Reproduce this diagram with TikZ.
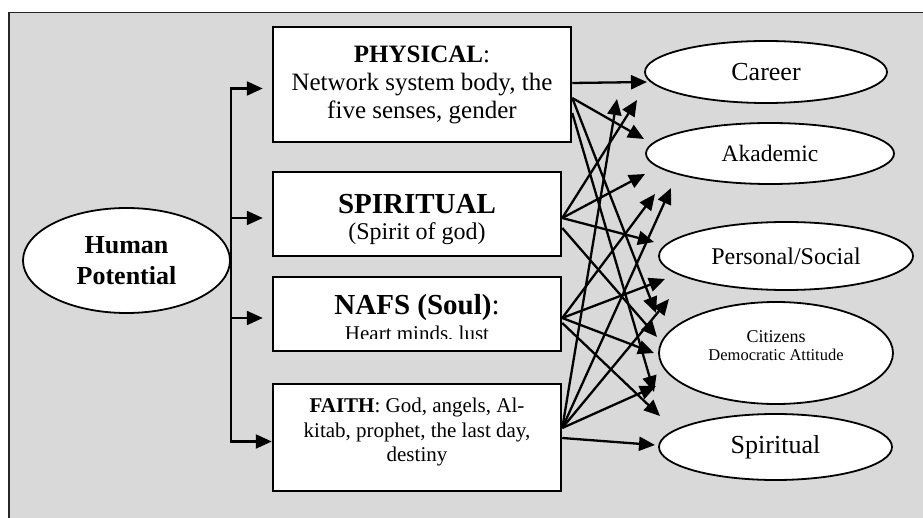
\documentclass[tikz,border=0pt]{standalone}
\usepackage{fontspec}
\setmainfont{Liberation Serif}
\usepackage{tikz}
\usetikzlibrary{arrows.meta,positioning,shapes,calc}
\definecolor{panelgray}{RGB}{217,217,217}
\tikzset{
  % middle column boxes
  box/.style={
    draw=black,
    line width=2.5pt,
    fill=white,
    inner sep=0pt,
    align=center
  },
  % ellipses (source and goals)
  goal/.style={
    ellipse,
    draw=black,
    line width=1.8pt,
    fill=white,
    inner sep=0pt,
    align=center
  },
  % text inside boxes
  boxtext/.style={align=center, inner sep=0pt},
  % arrows
  arr/.style={-{Triangle[length=16pt, width=14pt]}, line width=2.3pt},
  trunk/.style={line width=2.3pt, line cap=rect},
}

\begin{document}
\begin{tikzpicture}[x=1pt, y=-1pt]
    \useasboundingbox (0,0) rectangle (923,518);

    % grey panel (only top and left border visible)
    \fill[panelgray] (9,12.5) rectangle (935,530);
    \draw[line width=1.5pt, black!85] (935,12.5) -- (9,12.5) -- (9,530);

    % Source
    \node[goal, minimum width=207pt, minimum height=105pt, font=\fontsize{26}{31}\selectfont\bfseries] (hp) at (126.5,260.5) {Human\\Potential};

    % Boxes
    \node[box, minimum width=298pt, minimum height=115pt, font=\fontsize{25}{28}\selectfont] (phys) at (422,84.5)
        {\textbf{PHYSICAL}:\\Network system body, the\\five senses, gender};
    \node[box, minimum width=288pt, minimum height=84pt] (spir) at (417,214) {};
    \node[boxtext, font=\fontsize{24}{26}\selectfont] (spirt) at (417,219)
        {{\fontsize{29}{26}\selectfont\bfseries SPIRITUAL}\\(Spirit of god)};
    \node[box, minimum width=288pt, minimum height=74pt] (nafs) at (417,314) {};
    \node[anchor=base, font=\fontsize{29}{30}\selectfont] (nafst) at (417,315) {\textbf{NAFS (Soul)}:};
    \begin{scope}
        \clip (274,300) rectangle (560,339);
        \node[anchor=base, font=\fontsize{21}{24}\selectfont] (nafss) at (417,341) {Heart minds, lust};
    \end{scope}
    \node[box, minimum width=288pt, minimum height=107pt] (faith) at (417,437.5) {};
    \node[boxtext, font=\fontsize{21}{24.5}\selectfont] (faitht) at (417,432)
        {\textbf{FAITH}: God, angels, Al-\\kitab, prophet, the last day,\\destiny};

    % Goals
    \node[goal, minimum width=242pt, minimum height=62pt, font=\fontsize{26}{28}\selectfont] (car) at (766,72) {Career};
    \node[goal, minimum width=248pt, minimum height=61pt, font=\fontsize{23.5}{26}\selectfont] (aka) at (770,153.5) {Akademic};
    \node[goal, minimum width=254pt, minimum height=68pt, font=\fontsize{24}{26}\selectfont] (per) at (786,256) {Personal/Social};
    \node[goal, minimum width=234pt, minimum height=102pt] (cit) at (776,353) {};
    \node[boxtext, font=\fontsize{16.5}{18}\selectfont] (citt) at (776,346)
        {{\fontsize{18}{18}\selectfont Citizens}\\Democratic Attitude};
    \node[goal, minimum width=233pt, minimum height=66pt, font=\fontsize{26}{28}\selectfont] (spi) at (775.5,447) {Spiritual};

    % Trunk and branches
    \foreach \b in {phys,spir,nafs,faith}
        \coordinate (\b-in) at ($(\b.west)+(0,4)$);
    \draw[trunk] (hp.east |- phys-in) -- (hp.east |- faith-in);
    \foreach \b in {phys,spir,nafs}
        \draw[arr, shorten >=9pt] (hp.east |- \b-in) -- (\b-in);
    \draw[arr] (hp.east |- faith-in) -- (faith-in);

    % Fan of arrows
    \foreach \s/\sy/\t/\tx/\ty in {
        phys/-1.5/car/-119/10, phys/13.5/aka/-126/-14.5, phys/13.5/per/-130/57, phys/28.5/cit/-122/39,
        spir/4/car/-129/28, spir/4/aka/-125/20.5, spir/4/per/-132/-14, spir/14/cit/-119/-16,
        nafs/4/aka/-115/40.5, nafs/4/per/-121/23, nafs/4/cit/-122/0, nafs/9/spi/-115.5/-31,
        faith/-9.5/car/-149/27, faith/-9.5/aka/-99/34.5, faith/-9.5/per/-117/43,
        faith/-9.5/cit/-120/33, faith/0.5/spi/-120.5/-2}
        \draw[arr] ($(\s.east)+(0,\sy)$) -- ($(\t)+(\tx,\ty)$);
\end{tikzpicture}
\end{document}
